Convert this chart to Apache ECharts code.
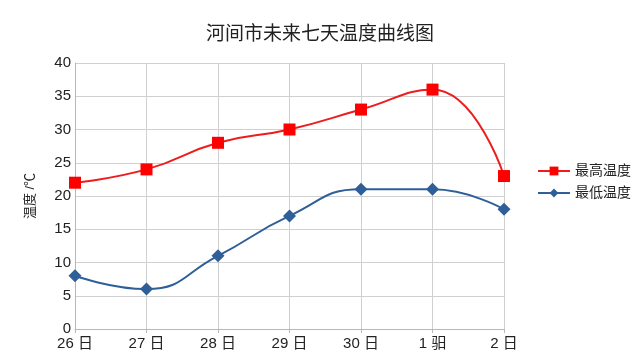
<!DOCTYPE html>
<html><head><meta charset="utf-8">
<script src="https://cdn.jsdelivr.net/npm/echarts@6/dist/echarts.min.js"></script>
<style>html,body{margin:0;padding:0;background:#fff}#c{width:640px;height:360px}</style>
</head><body><div id="c"></div>
<script>
const categories = ["26 日","27 日","28 日","29 日","30 日","1 驲","2 日"];
const highTemps = [22,24,28,30,33,36,23];
const lowTemps = [8,6,11,17,21,21,18];
const yTicks = {min:0, max:40, interval:5};
const chart = echarts.init(document.getElementById('c'));
const font = '"Liberation Sans","Noto Sans CJK SC",sans-serif';
chart.setOption({
  animation:false,
  backgroundColor:'#fff',
  title:{text:'河间市未来七天温度曲线图', left:'center', top:20,
    textStyle:{fontSize:19, fontWeight:'normal', color:'#222', fontFamily:font}},
  legend:{orient:'vertical', left:532, top:159, itemGap:8, itemWidth:32, itemHeight:11,
    textStyle:{fontSize:14, color:'#222', fontFamily:font, padding:[0,0,0,0]},
    data:['最高温度','最低温度']},
  grid:{left:75, right:136, top:63, bottom:31},
  xAxis:{type:'category', data:categories, boundaryGap:false,
    axisLine:{lineStyle:{color:'#b8b8b8'}},
    axisTick:{show:true, length:4, lineStyle:{color:'#b8b8b8'}},
    axisLabel:{fontSize:15, color:'#222', fontFamily:font, margin:7},
    splitLine:{show:true, lineStyle:{color:'#d0d0d0'}}},
  yAxis:{type:'value', min:yTicks.min, max:yTicks.max, interval:yTicks.interval,
    name:'温度 /℃', nameLocation:'middle', nameGap:38, nameRotate:90,
    nameTextStyle:{fontSize:13, color:'#222', fontFamily:font},
    axisLine:{show:true, lineStyle:{color:'#b8b8b8'}},
    axisTick:{show:false},
    axisLabel:{fontSize:15, color:'#222', fontFamily:font, margin:4},
    splitLine:{lineStyle:{color:'#d0d0d0'}}},
  series:[
    {name:'最高温度', type:'line', data:highTemps, smooth:0.5,
      symbol:'rect', symbolSize:12,
      lineStyle:{color:'#ee1c1c', width:2},
      itemStyle:{color:'#ff0000'}},
    {name:'最低温度', type:'line', data:lowTemps, smooth:0.5,
      symbol:'diamond', symbolSize:13,
      lineStyle:{color:'#2f5f98', width:2},
      itemStyle:{color:'#2f5f98'}}
  ]
});
</script></body></html>
